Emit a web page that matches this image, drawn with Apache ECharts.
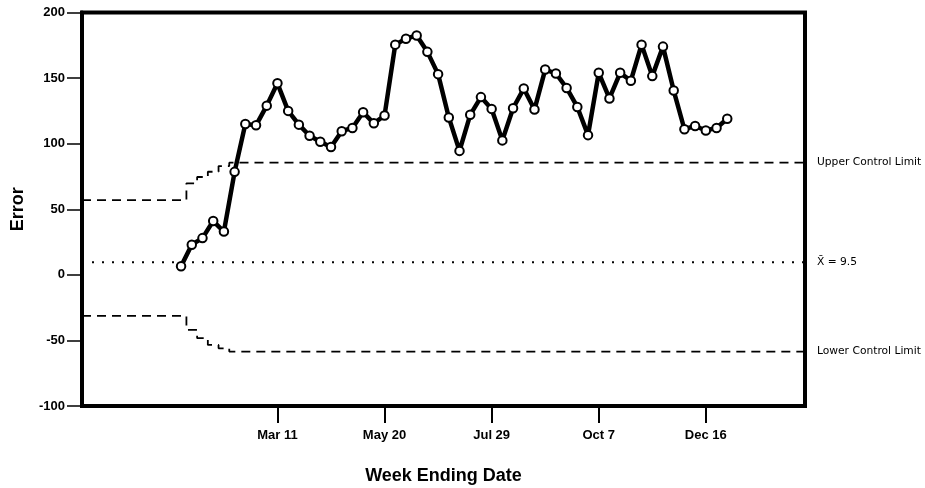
<!DOCTYPE html>
<html><head><meta charset="utf-8">
<script src="https://cdn.jsdelivr.net/npm/echarts@6/dist/echarts.min.js"></script>
<style>html,body{margin:0;padding:0;background:#fff}#c{width:925px;height:488px}</style>
</head><body><div id="c"></div>
<script>
// Weekly error values (week 1 = week ending Jan 7)
const errorValues = [6.5, 23, 28, 41, 33, 78.5, 115, 114, 129, 146,
  125, 114.5, 106, 101.5, 97.5, 109.5, 112, 124, 115.5, 121.5,
  175.5, 180, 182.5, 170, 153, 120, 94.5, 122, 135.5, 126.5,
  102.5, 127, 142, 126, 156.5, 153.5, 142.5, 128, 106.5, 154,
  134.5, 154, 148, 175.5, 151.5, 174, 140.5, 111, 113.5, 110,
  112, 119];
// Control limits: week at which each level starts, and its value
const limitWeeks = [1, 2, 3, 4, 5, 6];
const uclValues = [56.9, 69.8, 74.6, 78.6, 82.9, 85.5];
const lclValues = [-31.3, -42, -48.3, -53.4, -56, -58.5];
const meanValue = 9.5;
// X tick labels
const tickWeeks = [10, 20, 30, 40, 50];
const tickLabels = ['Mar 11', 'May 20', 'Jul 29', 'Oct 7', 'Dec 16'];

const X_MIN = -8.25, X_MAX = 59.26;
const FONT = 'Liberation Sans, Arial, sans-serif';

function limitData(ws, vs) {
  const d = [[X_MIN, vs[0]]];
  ws.forEach((w, i) => d.push([w, vs[i]]));
  d.push([X_MAX, vs[vs.length - 1]]);
  return d;
}
const endLabel = (txt) => ({
  show: true, formatter: txt, distance: 12, color: '#000',
  fontFamily: 'DejaVu Sans', fontSize: 10.7
});

const chart = echarts.init(document.getElementById('c'), null, {renderer: 'canvas'});
chart.setOption({
  animation: false,
  backgroundColor: '#fff',
  grid: {left: 82, right: 120, top: 12.5, bottom: 82, show: true, borderWidth: 4, borderColor: '#000',
    containLabel: false, outerBoundsMode: 'none'},
  xAxis: {
    type: 'value', min: X_MIN, max: X_MAX,
    splitLine: {show: false},
    axisLine: {show: true, onZero: false, lineStyle: {color: '#000', width: 4}},
    axisTick: {show: true, customValues: tickWeeks, length: 17, lineStyle: {color: '#000', width: 2}},
    axisLabel: {customValues: tickWeeks, formatter: v => tickLabels[tickWeeks.indexOf(v)],
      margin: 23, fontSize: 13, fontWeight: 'bold', color: '#000', fontFamily: FONT},
    name: 'Week Ending Date', nameLocation: 'middle', nameGap: 61,
    nameTextStyle: {fontSize: 18, fontWeight: 'bold', color: '#000', fontFamily: FONT}
  },
  yAxis: {
    type: 'value', min: -100, max: 200, interval: 50,
    splitLine: {show: false},
    axisLine: {show: true, onZero: false, lineStyle: {color: '#000', width: 4}},
    axisTick: {show: true, length: 15, lineStyle: {color: '#000', width: 1.5}},
    axisLabel: {margin: 17, fontSize: 13, fontWeight: 'bold', color: '#000', fontFamily: FONT},
    name: 'Error', nameLocation: 'middle', nameGap: 55,
    nameTextStyle: {fontSize: 18, fontWeight: 'bold', color: '#000', fontFamily: FONT}
  },
  series: [
    {type: 'line', step: 'middle', data: limitData(limitWeeks, uclValues), symbol: 'none', silent: true,
      lineStyle: {color: '#000', width: 1.8, type: [9, 6]}, endLabel: endLabel('Upper Control Limit'), z: 2},
    {type: 'line', step: 'middle', data: limitData(limitWeeks, lclValues), symbol: 'none', silent: true,
      lineStyle: {color: '#000', width: 1.8, type: [9, 6]}, endLabel: endLabel('Lower Control Limit'), z: 2},
    {type: 'line', data: [[X_MIN, meanValue], [X_MAX, meanValue]], symbol: 'none', silent: true,
      lineStyle: {color: '#000', width: 2, type: [2, 8]}, endLabel: endLabel('X\u0304 = ' + meanValue), z: 2},
    {type: 'line', data: errorValues.map((v, i) => [i + 1, v]), symbol: 'circle', symbolSize: 8.5,
      showAllSymbol: true,
      lineStyle: {color: '#000', width: 4.5},
      itemStyle: {color: '#fff', borderColor: '#000', borderWidth: 2}, z: 5}
  ]
});
</script></body></html>
